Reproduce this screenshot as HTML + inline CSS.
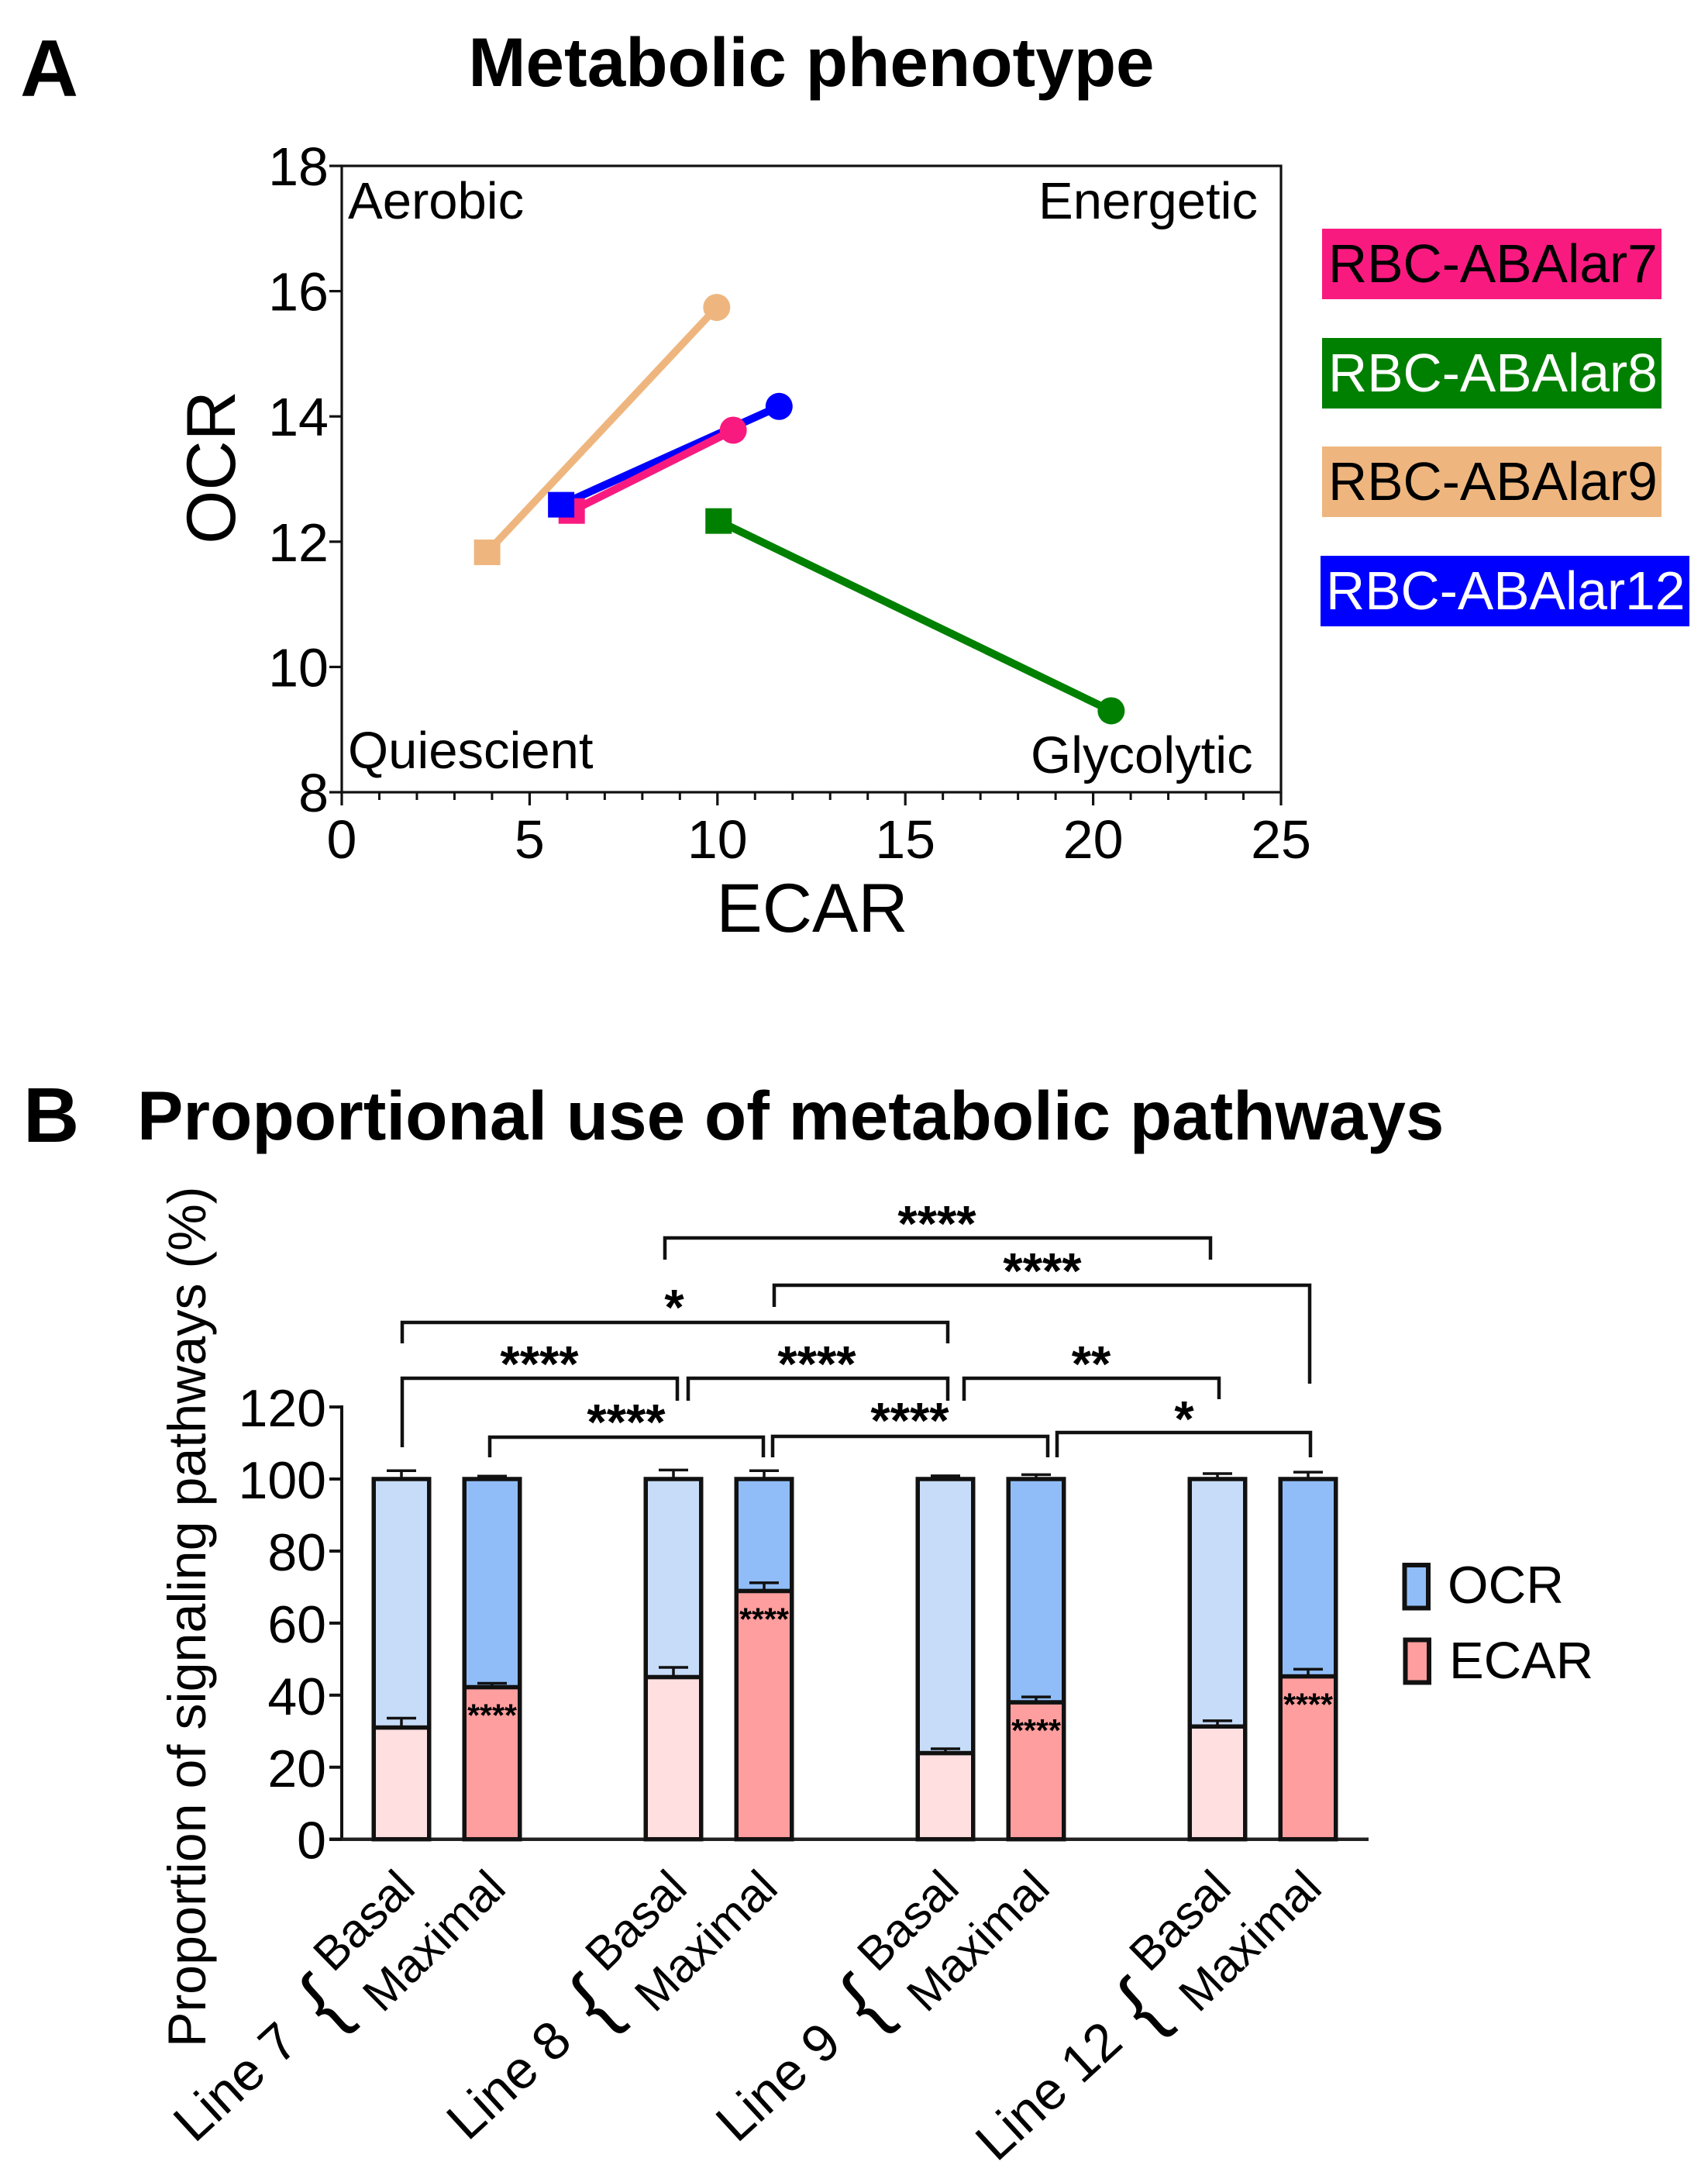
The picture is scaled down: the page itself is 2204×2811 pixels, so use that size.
<!DOCTYPE html>
<html lang="en">
<head>
<meta charset="utf-8">
<title>Metabolic phenotype and proportional use of metabolic pathways</title>
<style>
html,body{margin:0;padding:0;background:#fff;}
svg{display:block;font-family:"Liberation Sans",Arial,sans-serif;fill:#000;}
.br{fill:none;stroke:#111;stroke-width:4.5;}
.st{font-weight:bold;font-size:65px;text-anchor:middle;}
</style>
</head>
<body>
<svg id="fig" xmlns="http://www.w3.org/2000/svg" width="2204" height="2811" viewBox="0 0 2204 2811">
<rect width="2204" height="2811" fill="#fff"/>

<text x="26" y="124" font-size="104" font-weight="bold">A</text>
<text x="1047" y="111" font-size="89" font-weight="bold" text-anchor="middle">Metabolic phenotype</text>
<rect x="441" y="214" width="1212" height="808" fill="none" stroke="#111" stroke-width="3.2"/>
<text x="1048" y="1202" font-size="89" text-anchor="middle">ECAR</text>
<text transform="translate(303,603) rotate(-90)" font-size="89" text-anchor="middle">OCR</text>
<text x="449" y="282" font-size="67">Aerobic</text>
<text x="1340" y="282" font-size="67">Energetic</text>
<text x="449" y="991" font-size="67">Quiescient</text>
<text x="1330" y="997" font-size="67">Glycolytic</text>

<g font-size="69.5">
<rect x="1706" y="295" width="438" height="91" fill="#F91A80"/>
<text x="1714" y="364" fill="#000">RBC-ABAlar7</text>
<rect x="1706" y="436" width="438" height="91" fill="#008000"/>
<text x="1714" y="505" fill="#fff">RBC-ABAlar8</text>
<rect x="1706" y="576" width="438" height="91" fill="#EEB67E"/>
<text x="1714" y="645" fill="#000">RBC-ABAlar9</text>
<rect x="1704" y="717" width="476" height="91" fill="#0000FF"/>
<text x="1711" y="786" fill="#fff">RBC-ABAlar12</text>
</g>

<g id="phenotype-axes"></g>
<g id="phenotype-series"></g>

<text x="30" y="1473" font-size="100" font-weight="bold">B</text>
<text x="177" y="1470" font-size="89" font-weight="bold">Proportional use of metabolic pathways</text>
<text transform="translate(265,2641) rotate(-90)" font-size="68.2">Proportion of signaling pathways (%)</text>

<g id="pathway-axes"></g>
<g id="pathway-bars"></g>

<g>
<path class="br" d="M858 1625V1597H1562V1625"/>
<text class="st" x="1209" y="1601">****</text>
<path class="br" d="M999 1686V1658H1690V1785"/>
<text class="st" x="1345" y="1662">****</text>
<path class="br" d="M519 1733V1706H1223V1733"/>
<text class="st" x="870" y="1709">*</text>
<path class="br" d="M519 1867V1778H874V1807"/>
<text class="st" x="696" y="1782">****</text>
<path class="br" d="M888 1807V1778H1223V1807"/>
<text class="st" x="1054" y="1782">****</text>
<path class="br" d="M1244 1807V1778H1573V1805"/>
<text class="st" x="1408" y="1782">**</text>
<path class="br" d="M632 1880V1854H985V1880"/>
<text class="st" x="808" y="1857">****</text>
<path class="br" d="M997 1880V1853H1352V1880"/>
<text class="st" x="1174" y="1855">****</text>
<path class="br" d="M1364 1880V1848H1691V1880"/>
<text class="st" x="1528" y="1853">*</text>
</g>

<g>
<text transform="translate(251,2766) rotate(-42.5)" font-size="68.5">Line 7</text>
<text transform="translate(420,2588) rotate(-42)" y="28" font-size="105" text-anchor="middle">{</text>
<text transform="translate(603.5,2763.5) rotate(-42.5)" font-size="68.5">Line 8</text>
<text transform="translate(769,2588) rotate(-42)" y="28" font-size="105" text-anchor="middle">{</text>
<text transform="translate(951,2766) rotate(-42.5)" font-size="68.5">Line 9</text>
<text transform="translate(1118,2588) rotate(-42)" y="28" font-size="105" text-anchor="middle">{</text>
<text transform="translate(1286,2790.5) rotate(-42.5)" font-size="68.5">Line 12</text>
<text transform="translate(1475.5,2592.5) rotate(-42)" y="28" font-size="105" text-anchor="middle">{</text>
</g>

<g>
<rect x="1812.5" y="2019" width="30.5" height="55.5" fill="#90BDF8" stroke="#111" stroke-width="6"/>
<text x="1868" y="2068" font-size="67.5">OCR</text>
<rect x="1813.5" y="2115.5" width="30.5" height="55" fill="#FF9E9E" stroke="#111" stroke-width="6"/>
<text x="1870" y="2165" font-size="67">ECAR</text>
</g>

<script>
// Panel A data
const ecarTickLabels = [0, 5, 10, 15, 20, 25];
const ecarMinorTicks = [1, 2, 3, 4, 6, 7, 8, 9, 11, 12, 13, 14, 16, 17, 18, 19, 21, 22, 23, 24];
const ocrTickLabels = [8, 10, 12, 14, 16, 18];
const lineNames = ['line-9', 'line-8', 'line-12', 'line-7'];
const baselineEcar = [3.87, 10.03, 5.84, 6.12];
const baselineOcr = [11.83, 12.33, 12.59, 12.49];
const stressedEcar = [9.98, 20.48, 11.64, 10.42];
const stressedOcr = [15.74, 9.30, 14.16, 13.78];

// Panel B data
const barCategories = ['Line 7 Basal', 'Line 7 Maximal', 'Line 8 Basal', 'Line 8 Maximal', 'Line 9 Basal', 'Line 9 Maximal', 'Line 12 Basal', 'Line 12 Maximal'];
const barConditions = ['Basal', 'Maximal', 'Basal', 'Maximal', 'Basal', 'Maximal', 'Basal', 'Maximal'];
const ecarValues = [31.0, 42.2, 45.0, 68.9, 23.9, 38.0, 31.3, 45.2];
const ocrValues = [69.0, 57.8, 55.0, 31.1, 76.1, 62.0, 68.7, 54.8];
const ecarErrors = [2.6, 1.1, 2.7, 2.3, 1.2, 1.5, 1.6, 2.0];
const ocrErrors = [2.3, 0.8, 2.5, 2.3, 0.9, 1.2, 1.5, 1.9];
const ecarStars = ['', '****', '', '****', '', '****', '', '****'];
const proportionTicks = [0, 20, 40, 60, 80, 100, 120];

// Styles and axis functions
const NS = 'http://www.w3.org/2000/svg';
const lineColors = {'line-9': '#EEB67E', 'line-8': '#008000', 'line-12': '#0000FF', 'line-7': '#F91A80'};
const xA = v => 441 + v * 48.48;
const yA = v => 1022 - (v - 8) * 80.8;
const slots = [0, 1, 3, 4, 6, 7, 9, 10];
const xB = i => 518 + 117 * slots[i];
const yB = v => 2372.7 - v * 4.647;

function mk(tag, attrs, parent, txt) {
  const e = document.createElementNS(NS, tag);
  for (const k in attrs) e.setAttribute(k, attrs[k]);
  if (txt !== undefined) e.textContent = txt;
  parent.appendChild(e);
  return e;
}
const axesA = document.getElementById('phenotype-axes');
const seriesA = document.getElementById('phenotype-series');
const axesB = document.getElementById('pathway-axes');
const barsB = document.getElementById('pathway-bars');
let el;

// Panel A ticks
ecarTickLabels.forEach(v => {
  el = mk('line', {x1: xA(v), x2: xA(v), y1: 1022, y2: 1039, stroke: '#111', 'stroke-width': 3.2}, axesA);
  
  
  el = mk('text', {x: xA(v), y: 1107, 'font-size': 70, 'text-anchor': 'middle'}, axesA, String(v));
  
  
});
ecarMinorTicks.forEach(v => {
  el = mk('line', {x1: xA(v), x2: xA(v), y1: 1022, y2: 1032, stroke: '#111', 'stroke-width': 3}, axesA);
  
  
});
ocrTickLabels.forEach(v => {
  el = mk('line', {x1: 425, x2: 441, y1: yA(v), y2: yA(v), stroke: '#111', 'stroke-width': 3.2}, axesA);
  
  
  el = mk('text', {x: 424, y: yA(v) + 25, 'font-size': 70, 'text-anchor': 'end'}, axesA, String(v));
  
  
});

// Panel A series: connectors and circles first, squares after so blue sits over pink
lineNames.forEach((name, i) => {
  const c = lineColors[name];
  el = mk('line', {x1: xA(baselineEcar[i]), y1: yA(baselineOcr[i]), x2: xA(stressedEcar[i]), y2: yA(stressedOcr[i]), stroke: c, 'stroke-width': i === 0 ? 9.5 : 10}, seriesA);
  
  
  el = mk('circle', {cx: xA(stressedEcar[i]), cy: yA(stressedOcr[i]), r: 17.5, fill: c}, seriesA);
  
  
});
lineNames.slice().reverse().forEach(name => {
  const i = lineNames.indexOf(name);
  el = mk('rect', {x: xA(baselineEcar[i]) - 17, y: yA(baselineOcr[i]) - 16.5, width: 34, height: 33, fill: lineColors[name]}, seriesA);
  
  
});

// Panel B axes
el = mk('line', {x1: 441, x2: 441, y1: yB(120) - 2, y2: yB(0), stroke: '#111', 'stroke-width': 4}, axesB);


el = mk('line', {x1: 425, x2: 1766, y1: yB(0), y2: yB(0), stroke: '#222', 'stroke-width': 4.5}, axesB);


proportionTicks.forEach(v => {
  el = mk('line', {x1: 425, x2: 441, y1: yB(v), y2: yB(v), stroke: '#111', 'stroke-width': 4}, axesB);
  
  
  el = mk('text', {x: 421, y: yB(v) + 25, 'font-size': 68, 'text-anchor': 'end'}, axesB, String(v));
  
  
});

// Panel B bars
barCategories.forEach((cat, i) => {
  const cx = xB(i);
  const basal = barConditions[i] === 'Basal';
  const w = 71.5;
  const topV = ecarValues[i] + ocrValues[i];
  el = mk('rect', {x: cx - w / 2, y: yB(topV), width: w, height: yB(ecarValues[i]) - yB(topV), fill: basal ? '#C6DCF8' : '#90BDF8', stroke: '#111', 'stroke-width': 5.5}, barsB);
  
  
  el = mk('rect', {x: cx - w / 2, y: yB(ecarValues[i]), width: w, height: yB(0) - yB(ecarValues[i]), fill: basal ? '#FFDFE0' : '#FF9E9E', stroke: '#111', 'stroke-width': 5.5}, barsB);
  
  
  [[ecarValues[i], ecarErrors[i], 'ecar'], [topV, ocrErrors[i], 'ocr']].forEach(p => {
    el = mk('path', {d: 'M' + cx + ' ' + yB(p[0]) + 'V' + yB(p[0] + p[1]) + 'M' + (cx - 19) + ' ' + yB(p[0] + p[1]) + 'H' + (cx + 19), fill: 'none', stroke: '#111', 'stroke-width': 3.5}, barsB);
    
    
  });
  if (ecarStars[i]) {
    el = mk('text', {x: cx, y: yB(ecarValues[i]) + 50, 'font-size': 41, 'font-weight': 'bold', 'text-anchor': 'middle'}, barsB, ecarStars[i]);
    
    
  }
  el = mk('text', {transform: 'translate(' + (cx + 20.5) + ',2439) rotate(-44.5)', 'font-size': 61, 'text-anchor': 'end'}, barsB, barConditions[i]);
  
  
});
</script>
</svg>
</body>
</html>
